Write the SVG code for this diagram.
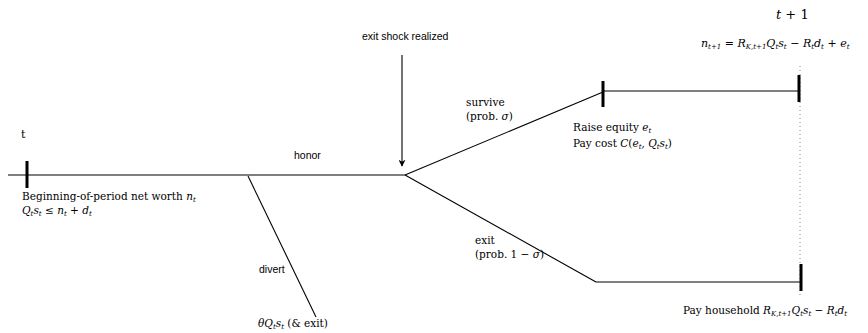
<svg xmlns="http://www.w3.org/2000/svg" width="868" height="333" viewBox="0 0 868 333">
<defs>
<marker id="ah" viewBox="0 0 10 10" refX="9" refY="5" markerWidth="7" markerHeight="7" orient="auto" markerUnits="userSpaceOnUse">
<path d="M0,0 L10,5 L0,10 L3,5 Z" fill="#000"/>
</marker>
</defs>
<style>
.ln{stroke:#000;stroke-width:1.1;fill:none}
.tk{stroke:#000;stroke-width:3;fill:none}
.dot{stroke:#888;stroke-width:1;stroke-dasharray:1,3;fill:none}
.sans{font-family:"Liberation Sans",Arial,sans-serif;font-size:10.5px;fill:#000}
.ser{font-family:"DejaVu Serif","Liberation Serif",serif;font-size:10.5px;fill:#000}
.i{font-style:italic}
.sb{font-size:7px}
</style>
<rect width="868" height="333" fill="#fff"/>
<g id="connectors">
<line class="ln" x1="8" y1="175" x2="405" y2="175"/>
<line class="ln" x1="248" y1="176" x2="316" y2="317"/>
<line class="ln" x1="402" y1="55" x2="402" y2="166" marker-end="url(#ah)"/>
<line class="ln" x1="405" y1="175" x2="603" y2="92"/>
<line class="ln" x1="603" y1="91" x2="800" y2="91"/>
<line class="ln" x1="405" y1="175" x2="596" y2="282"/>
<line class="ln" x1="596" y1="282" x2="801" y2="282"/>
<line class="dot" x1="800" y1="66" x2="800" y2="298"/>
</g>
<g id="tick-t"><line class="tk" x1="27" y1="161" x2="27" y2="188"/></g>
<g id="tick-survive"><line class="tk" x1="603" y1="81" x2="603" y2="107"/></g>
<g id="tick-t1-top"><line class="tk" x1="799" y1="75" x2="799" y2="102"/></g>
<g id="tick-t1-bottom"><line class="tk" x1="801" y1="264" x2="801" y2="291"/></g>
<g id="label-t"><text class="ser" x="21" y="138" style="font-size:11px">t</text></g>
<g id="label-begin">
<text class="ser" x="22" y="200">Beginning-of-period net worth <tspan class="i">n</tspan><tspan class="i sb" dy="2">t</tspan></text>
<text class="ser" x="22" y="214"><tspan class="i">Q</tspan><tspan class="i sb" dy="2">t</tspan><tspan class="i" dy="-2">s</tspan><tspan class="i sb" dy="2">t</tspan><tspan dy="-2"> ≤ </tspan><tspan class="i">n</tspan><tspan class="i sb" dy="2">t</tspan><tspan dy="-2"> + </tspan><tspan class="i">d</tspan><tspan class="i sb" dy="2">t</tspan></text>
</g>
<g id="label-honor"><text class="sans" x="294" y="159">honor</text></g>
<g id="label-divert"><text class="sans" x="259" y="273">divert</text></g>
<g id="label-theta"><text class="ser" x="258" y="327"><tspan class="i">θQ</tspan><tspan class="i sb" dy="2">t</tspan><tspan class="i" dy="-2">s</tspan><tspan class="i sb" dy="2">t</tspan><tspan dy="-2"> (&amp; exit)</tspan></text></g>
<g id="label-shock"><text class="sans" x="362" y="40">exit shock realized</text></g>
<g id="label-survive">
<text class="ser" x="466" y="106">survive</text>
<text class="ser" x="466" y="120">(prob. <tspan class="i">σ</tspan>)</text>
</g>
<g id="label-raise">
<text class="ser" x="573" y="131">Raise equity <tspan class="i">e</tspan><tspan class="i sb" dy="2">t</tspan></text>
<text class="ser" x="573" y="147">Pay cost <tspan class="i">C</tspan>(<tspan class="i">e</tspan><tspan class="i sb" dy="2">t</tspan><tspan dy="-2">, </tspan><tspan class="i">Q</tspan><tspan class="i sb" dy="2">t</tspan><tspan class="i" dy="-2">s</tspan><tspan class="i sb" dy="2">t</tspan><tspan dy="-2">)</tspan></text>
</g>
<g id="label-t1"><text class="ser" x="776" y="19" style="font-size:13px"><tspan class="i">t</tspan> + 1</text></g>
<g id="label-nt1"><text class="ser" x="701" y="47" style="font-size:11px"><tspan class="i">n</tspan><tspan class="i sb" dy="2">t+1</tspan><tspan dy="-2"> = </tspan><tspan class="i">R</tspan><tspan class="i sb" dy="2">K,t+1</tspan><tspan class="i" dy="-2">Q</tspan><tspan class="i sb" dy="2">t</tspan><tspan class="i" dy="-2">s</tspan><tspan class="i sb" dy="2">t</tspan><tspan dy="-2"> − </tspan><tspan class="i">R</tspan><tspan class="i sb" dy="2">t</tspan><tspan class="i" dy="-2">d</tspan><tspan class="i sb" dy="2">t</tspan><tspan dy="-2"> + </tspan><tspan class="i">e</tspan><tspan class="i sb" dy="2">t</tspan></text></g>
<g id="label-exit">
<text class="ser" x="475" y="244">exit</text>
<text class="ser" x="475" y="258">(prob. 1 − <tspan class="i">σ</tspan>)</text>
</g>
<g id="label-pay"><text class="ser" x="683" y="314">Pay household <tspan class="i">R</tspan><tspan class="i sb" dy="2">K,t+1</tspan><tspan class="i" dy="-2">Q</tspan><tspan class="i sb" dy="2">t</tspan><tspan class="i" dy="-2">s</tspan><tspan class="i sb" dy="2">t</tspan><tspan dy="-2"> − </tspan><tspan class="i">R</tspan><tspan class="i sb" dy="2">t</tspan><tspan class="i" dy="-2">d</tspan><tspan class="i sb" dy="2">t</tspan></text></g>
</svg>
